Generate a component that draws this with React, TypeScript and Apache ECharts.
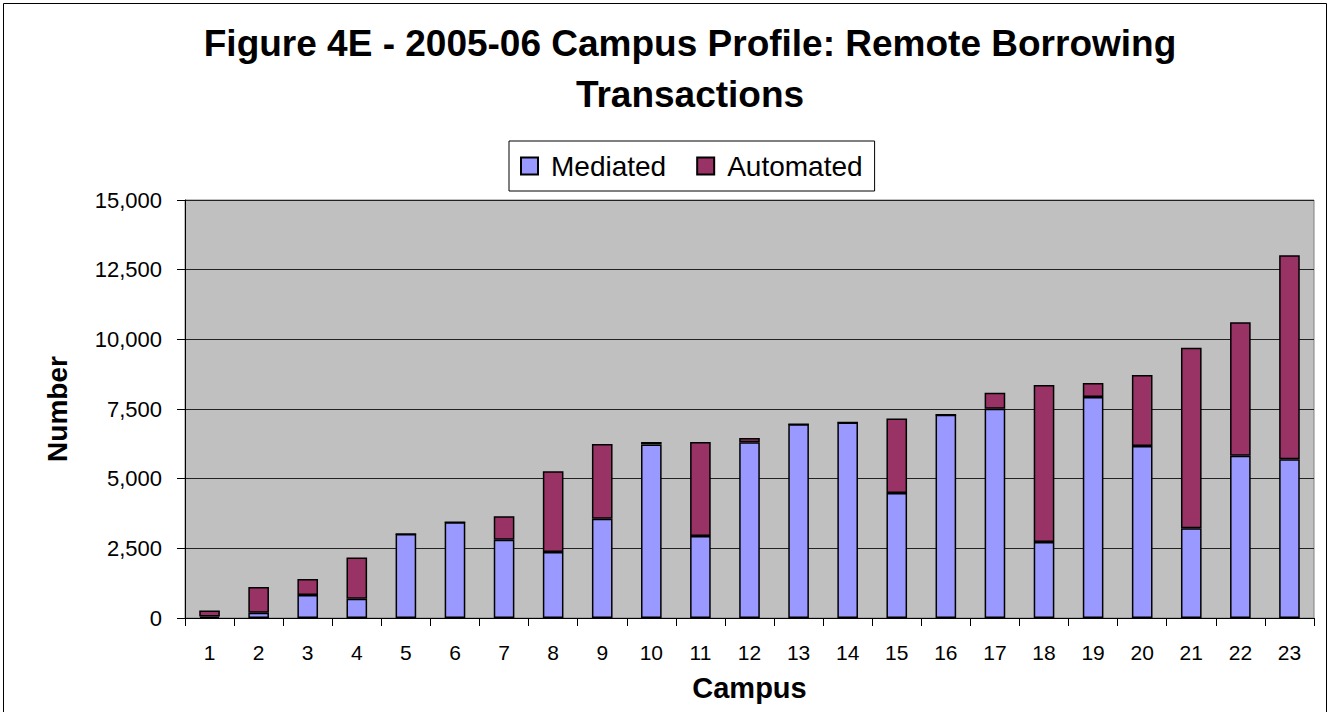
import React, { useEffect, useRef } from "react";
import * as echarts from "echarts";

const FONT = "'Liberation Sans', Arial, Helvetica, sans-serif";

const campuses = ["1", "2", "3", "4", "5", "6", "7", "8", "9", "10", "11", "12", "13", "14", "15", "16", "17", "18", "19", "20", "21", "22", "23"];
const mediated = [50, 190, 825, 695, 3010, 3435, 2810, 2370, 3565, 6230, 2945, 6305, 6950, 7020, 4485, 7295, 7510, 2725, 7930, 6170, 3220, 5825, 5695];
const automated = [215, 920, 575, 1480, 0, 0, 840, 2895, 2680, 85, 3370, 155, 0, 0, 2670, 0, 575, 5635, 505, 2550, 6480, 4785, 7320];
const seriesNames = ["Mediated", "Automated"];
const titleText = "Figure 4E - 2005-06 Campus Profile: Remote Borrowing\nTransactions";

export default function App() {
  const ref = useRef<HTMLDivElement>(null);
  useEffect(() => {
    document.body.style.margin = "0";
    if (!ref.current) return;
    const chart = echarts.init(ref.current, null, { renderer: "svg" });
    const barStyle = (color: string) => ({ color, borderColor: "#000", borderWidth: 1.5 });
    chart.setOption({
      animation: false,
      backgroundColor: "#fff",
      title: {
        text: titleText,
        left: 690,
        top: 18,
        textAlign: "center",
        padding: 0,
        textStyle: { fontFamily: FONT, fontSize: 37, fontWeight: "bold", color: "#000", lineHeight: 51 },
      },
      legend: {
        left: 509,
        top: 141,
        padding: [11, 12, 11, 11],
        itemWidth: 17,
        itemHeight: 17,
        itemGap: 30,
        icon: "rect",
        borderColor: "#000",
        borderWidth: 1,
        data: seriesNames,
        textStyle: { fontFamily: FONT, fontSize: 28, color: "#000", padding: [0, 0, 0, 8] },
      },
      graphic: [
        {
          type: "rect",
          shape: { x: 3.5, y: 3.5, width: 1323, height: 740 },
          style: { fill: "none", stroke: "#000", lineWidth: 1 },
          silent: true,
          z: -1,
        },
      ],
      grid: {
        left: 185,
        right: 16,
        top: 200,
        bottom: 94,
        show: true,
        backgroundColor: "#C0C0C0",
        borderColor: "#808080",
        borderWidth: 1,
      },
      xAxis: {
        type: "category",
        data: campuses,
        name: "Campus",
        nameLocation: "middle",
        nameGap: 55,
        nameTextStyle: { fontFamily: FONT, fontSize: 29, fontWeight: "bold", color: "#000" },
        axisLine: { lineStyle: { color: "#000", width: 1 } },
        axisTick: { show: true, length: 8, lineStyle: { color: "#000" } },
        axisLabel: { fontFamily: FONT, fontSize: 21, color: "#000", margin: 24 },
      },
      yAxis: {
        type: "value",
        min: 0,
        max: 15000,
        interval: 2500,
        name: "Number",
        nameLocation: "middle",
        nameGap: 114,
        nameTextStyle: { fontFamily: FONT, fontSize: 28, fontWeight: "bold", color: "#000" },
        axisLine: { show: true, lineStyle: { color: "#000", width: 1 } },
        axisTick: { show: true, length: 8, lineStyle: { color: "#000" } },
        axisLabel: {
          fontFamily: FONT,
          fontSize: 22,
          color: "#000",
          margin: 23,
          formatter: (v: number) => v.toLocaleString("en-US"),
        },
        splitLine: { show: true, lineStyle: { color: "#222", width: 1 } },
      },
      series: [
        {
          name: seriesNames[0],
          type: "bar",
          stack: "total",
          data: mediated,
          barCategoryGap: "58%",
          itemStyle: barStyle("#9999FF"),
        },
        {
          name: seriesNames[1],
          type: "bar",
          stack: "total",
          data: automated,
          barCategoryGap: "58%",
          itemStyle: barStyle("#993366"),
        },
      ],
    });
    return () => chart.dispose();
  }, []);
  return <div ref={ref} style={{ width: 1330, height: 712 }} />;
}
